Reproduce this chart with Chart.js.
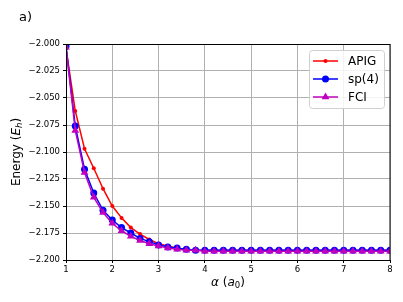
<!DOCTYPE html>
<html>
<head>
<meta charset="utf-8">
<script src="https://cdn.jsdelivr.net/npm/chart.js@4.4.1/dist/chart.umd.min.js"></script>
<style>
  html, body { margin: 0; padding: 0; background: #fff; }
  #wrap { width: 403px; height: 302px; }
</style>
</head>
<body>
<div id="wrap"><canvas id="c" width="403" height="302"></canvas></div>
<script>
const alpha = [1.0, 1.2, 1.4, 1.6, 1.8, 2.0, 2.2, 2.4, 2.6, 2.8, 3.0, 3.2, 3.4, 3.6, 3.8,
    4.0, 4.2, 4.4, 4.6, 4.8, 5.0, 5.2, 5.4, 5.6, 5.8, 6.0, 6.2, 6.4, 6.6, 6.8,
    7.0, 7.2, 7.4, 7.6, 7.8, 8.0]

const apig = [-2.004, -2.062, -2.097, -2.115, -2.134, -2.150, -2.161, -2.170, -2.176, -2.181,
    -2.185, -2.187, -2.189, -2.190, -2.191, -2.191, -2.191, -2.191, -2.191, -2.191,
    -2.191, -2.191, -2.191, -2.191, -2.191, -2.191, -2.191, -2.191, -2.191, -2.191,
    -2.191, -2.191, -2.191, -2.191, -2.191, -2.191]

const sp4 = [-2.002, -2.076, -2.116, -2.138, -2.154, -2.163, -2.170, -2.175, -2.180, -2.183,
    -2.186, -2.188, -2.189, -2.190, -2.191, -2.191, -2.191, -2.191, -2.191, -2.191,
    -2.191, -2.191, -2.191, -2.191, -2.191, -2.191, -2.191, -2.191, -2.191, -2.191,
    -2.191, -2.191, -2.191, -2.191, -2.191, -2.191]

const fci = [-2.003, -2.080, -2.119, -2.142, -2.156, -2.166, -2.173, -2.178, -2.182, -2.185,
    -2.187, -2.189, -2.190, -2.191, -2.191, -2.192, -2.192, -2.192, -2.192, -2.192,
    -2.192, -2.192, -2.192, -2.192, -2.192, -2.192, -2.192, -2.192, -2.192, -2.192,
    -2.192, -2.192, -2.192, -2.192, -2.192, -2.192]

const seriesLabels = ['APIG', 'sp(4)', 'FCI']
const xRange = [1, 8]
const yRange = [-2.2, -2.0]

const FONT = "'DejaVu Sans', sans-serif"

function toPoints(ys){
    return alpha.map((x, i) => ({x: x, y: ys[i]}))
}

function drawMarker(ctx, style, r, x, y, color){
    ctx.save()
    ctx.fillStyle = color
    ctx.beginPath()
    if(style === 'triangle'){
        ctx.moveTo(x, y - r)
        ctx.lineTo(x + r * 0.866, y + r * 0.5)
        ctx.lineTo(x - r * 0.866, y + r * 0.5)
        ctx.closePath()
    } else {
        ctx.arc(x, y, r, 0, Math.PI * 2)
    }
    ctx.fill()
    ctx.restore()
}

// draws a run of text pieces with their own font, size and baseline shift
function drawParts(ctx, parts, x, y){
    let total = 0
    parts.forEach(p => {
        ctx.font = (p.italic ? 'italic ' : '') + p.size + 'px ' + FONT
        p.w = ctx.measureText(p.text).width
        total += p.w
    })
    let cx = x - total / 2
    parts.forEach(p => {
        ctx.font = (p.italic ? 'italic ' : '') + p.size + 'px ' + FONT
        ctx.fillText(p.text, cx, y + (p.shift || 0))
        cx += p.w
    })
}

const decorPlugin = {
    id: 'decor',
    afterDraw(chart){
        const ctx = chart.ctx
        const a = chart.chartArea

        ctx.save()
        // frame
        ctx.strokeStyle = '#000'
        ctx.lineWidth = 1
        ctx.strokeRect(Math.round(a.left) + 0.5, Math.round(a.top) + 0.5,
            Math.round(a.right - a.left) - 1 + 0.5, Math.round(a.bottom - a.top))

        ctx.fillStyle = '#000'
        ctx.textBaseline = 'middle'

        // panel letter
        ctx.font = '13px ' + FONT
        ctx.textAlign = 'left'
        ctx.fillText('a)', 19, 18)

        // x title
        drawParts(ctx, [
            {text: 'α', italic: true, size: 12},
            {text: ' (', size: 12},
            {text: 'a', italic: true, size: 12},
            {text: '0', size: 8.5, shift: 2.5},
            {text: ')', size: 12}
        ], (a.left + a.right) / 2, 283)

        // y title
        ctx.save()
        ctx.translate(17, (a.top + a.bottom) / 2)
        ctx.rotate(-Math.PI / 2)
        drawParts(ctx, [
            {text: 'Energy (', size: 12},
            {text: 'E', italic: true, size: 12},
            {text: 'h', italic: true, size: 8.5, shift: 2.5},
            {text: ')', size: 12}
        ], 0, 0)
        ctx.restore()

        // legend
        const bw = 75, bh = 58
        const bx = a.right - 6 - bw, by = a.top + 6
        ctx.beginPath()
        ctx.roundRect(bx + 0.5, by + 0.5, bw, bh, 3)
        ctx.fillStyle = 'rgba(255,255,255,0.85)'
        ctx.fill()
        ctx.strokeStyle = '#d0d0d0'
        ctx.stroke()

        ctx.font = '12px ' + FONT
        chart.data.datasets.forEach((ds, i) => {
            const ry = by + 11 + i * 18
            ctx.strokeStyle = ds.borderColor
            ctx.lineWidth = 1.5
            ctx.beginPath()
            ctx.moveTo(bx + 4, ry)
            ctx.lineTo(bx + 29, ry)
            ctx.stroke()
            drawMarker(ctx, ds.pointStyle, ds.pointRadius, bx + 16.5, ry, ds.pointBackgroundColor)
            ctx.fillStyle = '#000'
            ctx.fillText(ds.label, bx + 39, ry + 0.5)
        })
        ctx.restore()
    }
}

const minus = v => (v < 0 ? '\u2212' : '') + Math.abs(v).toFixed(3)

new Chart(document.getElementById('c'), {
    type: 'line',
    data: {
        datasets: [
            {
                label: seriesLabels[0],
                data: toPoints(apig),
                order: 3,
                borderColor: '#ff0000',
                backgroundColor: '#ff0000',
                pointBackgroundColor: '#ff0000',
                pointBorderColor: '#ff0000',
                pointStyle: 'circle',
                pointRadius: 2,
                borderWidth: 1.5,
                pointBorderWidth: 0
            },
            {
                label: seriesLabels[1],
                data: toPoints(sp4),
                order: 2,
                borderColor: '#0000ff',
                backgroundColor: '#0000ff',
                pointBackgroundColor: '#0000ff',
                pointBorderColor: '#0000ff',
                pointStyle: 'circle',
                pointRadius: 3.5,
                borderWidth: 1.5,
                pointBorderWidth: 0
            },
            {
                label: seriesLabels[2],
                data: toPoints(fci),
                order: 1,
                borderColor: '#bf00bf',
                backgroundColor: '#bf00bf',
                pointBackgroundColor: '#bf00bf',
                pointBorderColor: '#bf00bf',
                pointStyle: 'triangle',
                pointRadius: 4.5,
                borderWidth: 1.5,
                pointBorderWidth: 0
            }
        ]
    },
    options: {
        responsive: false,
        animation: false,
        layout: {padding: {top: 44, right: 13, left: 0, bottom: 0}},
        plugins: {
            legend: {display: false},
            tooltip: {enabled: false}
        },
        scales: {
            x: {
                type: 'linear',
                min: xRange[0],
                max: xRange[1],
                ticks: {stepSize: 1, color: '#000', font: {family: FONT, size: 8.5}, padding: 2, maxRotation: 0},
                grid: {color: '#b0b0b0', tickColor: '#000', tickLength: 3},
                border: {color: '#000'},
                afterFit(scale){
                    scale.height = 42
                    scale.paddingLeft = 0
                    scale.paddingRight = 0
                }
            },
            y: {
                min: yRange[0],
                max: yRange[1],
                ticks: {stepSize: 0.025, autoSkip: false, color: '#000', font: {family: FONT, size: 8.5}, padding: 3, callback: minus},
                grid: {color: '#b0b0b0', tickColor: '#000', tickLength: 3},
                border: {color: '#000'},
                afterFit(scale){
                    scale.width = 66
                    scale.paddingTop = 0
                    scale.paddingBottom = 0
                }
            }
        }
    },
    plugins: [decorPlugin]
})
</script>
</body>
</html>
